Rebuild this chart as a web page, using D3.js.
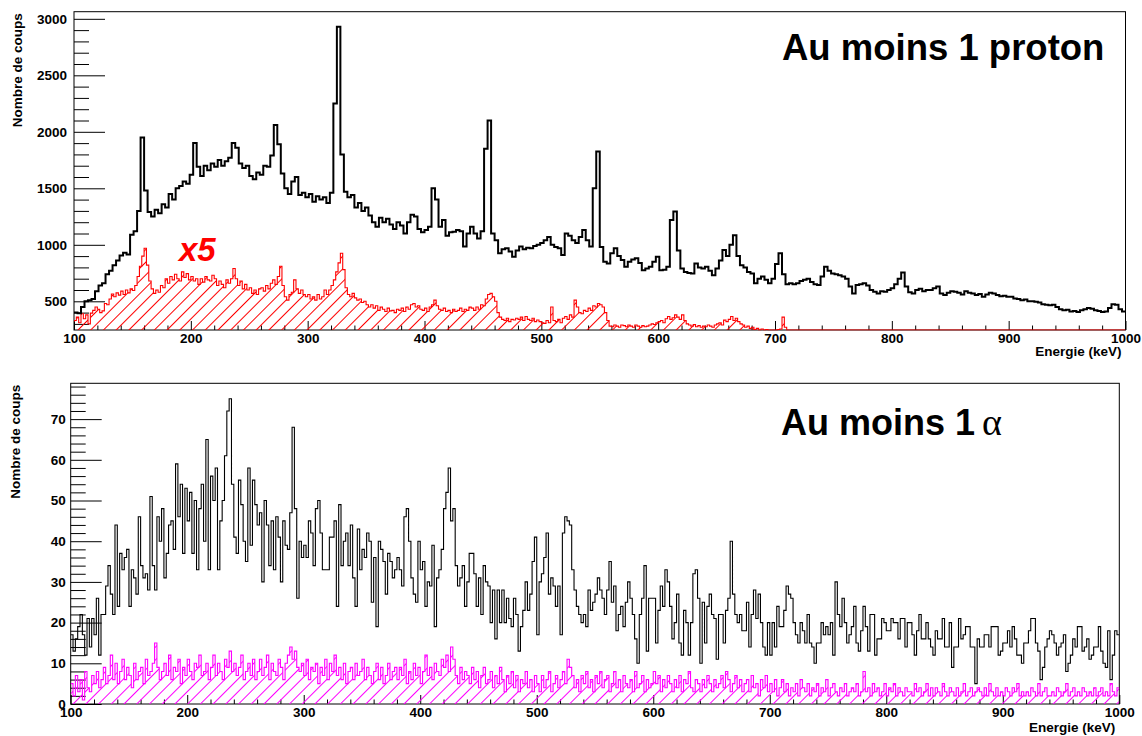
<!DOCTYPE html>
<html>
<head>
<meta charset="utf-8">
<script src="https://cdn.jsdelivr.net/npm/d3@7"></script>
<style>
  html, body { margin: 0; padding: 0; background: #ffffff; }
  svg text { font-family: "Liberation Sans", Arial, Helvetica, sans-serif; }
</style>
</head>
<body>
<svg id="chart" width="1142" height="736"></svg>
<script>
// ---------------------------------------------------------------
// Spectra (counts per energy bin). Each series starts at 100 keV.
// ---------------------------------------------------------------
const protonBinStart = 100, protonBinWidth = 3;   // keV
const protonCounts = [
  400,395,450,500,510,520,590,640,660,740,
  770,820,860,905,930,915,1090,1120,1300,1950,
  1480,1290,1250,1310,1280,1360,1330,1450,1400,1500,
  1520,1560,1540,1620,1900,1690,1610,1700,1660,1720,
  1690,1750,1700,1740,1770,1900,1860,1720,1680,1700,
  1610,1580,1640,1620,1700,1690,1790,2060,1890,1630,
  1500,1450,1560,1600,1440,1460,1420,1450,1380,1430,
  1400,1420,1370,1460,2250,2930,1800,1470,1420,1440,
  1330,1370,1300,1330,1260,1200,1160,1240,1200,1230,
  1180,1140,1200,1170,1100,1200,1265,1250,1140,1110,
  1130,1160,1500,1400,1160,1220,1080,1110,1115,1130,
  1120,985,1100,1160,1100,1055,1120,1850,2100,1100,
  1040,925,960,970,940,895,950,985,960,975,
  970,990,1000,1015,1040,1070,1000,980,970,910,
  1100,1080,1040,1015,1070,1130,1040,985,1500,1825,
  980,850,835,925,970,900,865,805,850,870,
  880,840,775,790,805,850,895,775,780,805,
  1220,1295,950,790,760,750,745,835,800,790,
  805,770,730,790,860,955,900,1000,1085,900,
  820,800,760,745,660,700,720,690,660,700,
  830,925,740,650,660,650,660,680,690,700,
  670,650,645,720,805,770,745,740,730,720,
  700,630,570,645,650,660,640,600,585,570,
  590,585,600,615,650,700,755,630,580,570,
  600,610,590,600,600,615,630,570,555,575,
  590,585,575,560,590,575,570,555,565,540,
  560,575,570,555,545,550,540,540,525,520,
  510,515,500,500,495,490,475,470,465,470,
  450,430,420,425,410,415,405,420,430,440,
  435,420,415,405,410,440,475,470,430,410
];

// second selection, scaled by 5
const protonSubBinStart = 100, protonSubBinWidth = 2; // keV
const protonSubCountsX5 = [
  330,360,310,390,345,380,300,395,420,450,
  430,400,415,480,470,520,565,540,575,555,
  590,560,600,575,610,595,640,720,810,900,
  970,820,680,610,570,600,580,640,620,700,
  660,720,690,740,700,680,760,710,745,690,
  720,680,700,650,700,670,720,690,680,730,
  700,640,680,650,620,690,660,700,790,700,
  640,680,610,650,600,620,570,600,560,610,
  620,590,640,610,660,690,650,720,810,640,
  540,510,560,580,690,610,570,600,560,540,
  560,520,540,510,560,520,540,600,560,600,
  640,690,760,840,925,780,620,560,540,570,
  530,510,520,490,500,470,450,470,440,460,
  420,450,430,410,440,415,420,400,430,420,
  440,410,450,430,470,480,450,460,430,420,
  440,410,450,470,510,460,430,420,440,410,
  420,400,430,410,420,440,410,430,420,450,
  440,420,450,430,470,460,520,560,570,540,
  500,400,360,340,330,350,320,340,335,350,
  340,360,330,365,340,330,350,320,335,320,
  310,305,330,310,450,330,320,340,310,350,
  365,340,380,360,510,450,400,390,420,410,
  440,420,460,450,480,470,450,400,330,280,
  275,290,280,270,290,285,275,290,280,270,
  290,280,270,285,275,280,290,300,295,310,
  320,330,310,345,365,340,355,380,360,340,
  380,330,300,290,280,295,275,285,270,280,
  275,290,280,270,290,300,310,290,335,320,
  340,365,330,350,320,300,290,270,280,260,
  270,250,260,240,255,235,250,240,230,245,
  240,250,255,360,270,235,225,230,220,235,
  220,225,215,230,210,220,215,205,220,210,
  215,205,210,200,215,205,210,200,205,210,
  225,210,200,205,215,205,240,200,195,205,
  200,195,205,190,200,195,190,200,185,195,
  190,185,195,180,190,185,180,190,185,180,
  185,175,180,185,175,170,180,175,170,175,
  170,175,165,170,175,165,170,160,165,170,
  165,160,170,160,165,155,160,165,155,160,
  155,160,150,155,150,155,145,150,155,145,
  150,145,140,150,145,140,145,135,140,145,
  140,135,140,130,135,140,130,135,130,125,
  135,130,125,130,125,120,130,125,120,125,
  120,125,115,120,125,115,120,110,115,120,
  115,110,120,115,110,115,105,110,115,110
];

const alphaBinStart = 100, alphaBinWidth = 2;     // keV
const alphaCounts = [
  17,13,16,19,22,17,12,21,14,21,
  17,26,12,22,22,29,34,27,22,44,
  24,37,33,36,38,24,33,31,27,46,
  34,31,32,28,51,34,28,46,40,48,
  31,37,44,45,38,59,46,54,37,53,
  45,52,37,50,33,48,54,40,65,33,
  56,50,58,33,45,50,61,72,75,54,
  41,37,55,49,40,35,58,39,55,49,
  44,47,30,50,44,34,45,33,46,41,
  30,45,39,38,47,68,48,26,40,36,
  39,36,45,42,34,48,50,42,33,33,
  33,41,41,45,24,49,34,40,42,34,
  44,31,24,43,33,38,36,42,40,25,
  36,19,40,38,35,27,37,35,31,33,
  36,33,29,46,48,40,31,27,25,40,
  33,35,24,30,29,39,19,31,33,38,
  48,52,58,45,48,34,29,31,34,24,
  30,37,37,32,24,31,22,34,30,29,
  20,28,16,28,20,28,20,26,21,19,
  26,22,13,19,23,30,23,27,35,41,
  17,30,32,36,42,27,31,29,24,29,
  17,42,46,45,44,33,28,24,22,20,
  22,19,28,23,25,27,31,28,26,22,
  28,35,25,29,18,22,24,19,25,30,
  26,22,16,10,22,26,34,13,26,26,
  26,15,23,29,24,33,30,24,16,20,
  27,15,12,23,20,12,20,32,33,26,
  10,25,15,24,27,22,21,11,22,22,
  15,23,26,40,27,22,20,22,18,18,
  25,14,22,28,21,27,20,14,12,20,
  12,20,14,24,19,19,23,29,27,26,
  20,17,15,20,18,15,22,15,14,10,
  15,15,20,17,19,17,20,12,30,22,
  19,26,20,15,17,19,24,15,13,18,
  24,19,13,22,22,12,16,16,21,20,
  18,18,21,20,20,16,21,21,14,20,
  20,17,12,18,22,16,16,20,16,14,
  12,18,16,16,21,14,14,20,9,14,
  14,21,16,17,19,19,14,14,5,16,
  14,14,17,17,14,19,19,19,12,13,
  15,15,18,14,19,16,12,12,10,15,
  15,18,21,21,15,13,6,9,14,16,
  18,17,15,12,14,15,17,8,10,12,
  16,14,19,19,13,14,16,11,12,14,
  14,19,13,10,9,18,6,12,18,17
];

const alphaSubBinStart = 100, alphaSubBinWidth = 2; // keV
const alphaSubCounts = [
  5,2,7,3,6,1,8,4,3,7,
  5,8,4,6,9,5,7,12,6,10,
  5,8,11,6,9,7,4,10,6,8,
  9,5,11,7,8,10,15,9,6,8,
  10,7,12,6,9,8,11,5,9,7,
  11,8,6,10,9,12,7,8,10,6,
  9,12,7,10,8,6,11,9,13,8,
  10,7,9,12,6,8,10,7,11,6,
  8,11,7,9,12,6,10,8,7,11,
  9,6,10,12,14,11,13,9,8,10,
  7,11,6,9,8,10,5,9,7,11,
  6,10,8,12,7,9,6,10,5,8,
  9,6,10,7,8,11,6,9,7,5,
  8,10,6,9,5,7,10,6,8,9,
  6,9,7,11,5,8,6,10,7,9,
  5,8,12,7,9,6,10,8,7,11,
  9,12,8,14,11,7,5,9,6,8,
  7,5,9,6,8,4,7,9,5,6,
  8,4,7,5,9,6,3,7,5,8,
  4,7,3,6,5,8,4,6,3,7,
  5,3,7,4,6,8,3,5,7,4,
  6,8,5,11,9,7,4,6,3,7,
  5,8,4,6,3,7,5,8,4,6,
  7,3,5,8,4,6,3,7,5,4,
  6,3,8,4,5,7,3,6,4,5,
  8,5,7,3,6,4,7,5,3,6,
  4,7,3,6,5,8,4,3,6,5,
  3,6,4,7,5,3,6,4,5,7,
  4,8,6,3,5,7,4,6,3,5,
  6,3,7,4,5,2,6,4,7,3,
  5,3,6,2,4,6,3,5,2,4,
  3,5,2,6,4,3,5,2,4,3,
  5,2,4,3,6,2,4,5,3,2,
  4,3,5,2,3,4,3,5,2,3,
  8,3,4,2,5,3,4,2,3,5,
  2,4,3,5,2,4,3,2,4,3,
  3,2,5,3,4,2,3,5,2,4,
  2,4,3,2,5,3,2,4,3,2,
  4,2,3,5,2,3,4,2,3,4,
  3,2,4,2,5,3,2,4,2,3,
  2,4,3,2,4,3,5,2,3,2,
  3,2,4,3,2,5,2,3,4,2,
  2,3,2,4,3,2,3,5,2,3,
  4,2,3,2,4,3,2,3,2,4,
  2,3,4,2,3,2,5,3,2,4
];

// axis ticks
const energyTicks      = [100,200,300,400,500,600,700,800,900,1000];
const energyMinorTicks = d3.range(100, 1001, 20).filter(v => v % 100 !== 0);
const protonTicks      = [500,1000,1500,2000,2500,3000];
const protonMinorTicks = d3.range(300, 3001, 100).filter(v => v % 500 !== 0);
const alphaTicks       = [0,10,20,30,40,50,60,70];
const alphaMinorTicks  = d3.range(2, 79, 2).filter(v => v % 10 !== 0);

const energyLabel = "Energie (keV)";
const countLabel  = "Nombre de coups";

// ---------------------------------------------------------------
const svg  = d3.select("#chart");
const defs = svg.append("defs");

function addHatch(id, color) {
  defs.append("pattern")
    .attr("id", id)
    .attr("patternUnits", "userSpaceOnUse")
    .attr("width", 9).attr("height", 9)
    .attr("patternTransform", "rotate(45)")
    .append("line")
    .attr("x1", 0.5).attr("y1", -1).attr("x2", 0.5).attr("y2", 10)
    .attr("stroke", color).attr("stroke-width", 1);
}
addHatch("hatch-red", "#ff0000");
addHatch("hatch-magenta", "#ff00ff");

function binPoints(vals, start, width) {
  const pts = vals.map((v, i) => [start + i * width, v]);
  pts.push([start + vals.length * width, vals[vals.length - 1]]);
  return pts;
}

function drawPanel(cfg) {
  const g = svg.append("g");
  const x = d3.scaleLinear().domain([100, 1000]).range([cfg.left, cfg.right]);
  const y = d3.scaleLinear().domain(cfg.yDomain).range([cfg.bottom, cfg.top]).clamp(true);

  const clipId = cfg.id + "-clip";
  defs.append("clipPath").attr("id", clipId)
    .append("rect")
    .attr("x", cfg.left).attr("y", cfg.top - 1)
    .attr("width", cfg.right - cfg.left).attr("height", cfg.bottom - cfg.top + 1.5);

  // frame
  g.append("rect")
    .attr("x", cfg.left).attr("y", cfg.top)
    .attr("width", cfg.right - cfg.left).attr("height", cfg.bottom - cfg.top)
    .attr("fill", "#fff").attr("stroke", "#000").attr("stroke-width", 1);

  // y axis: major + minor ticks pointing into the frame
  const yMajor = g.append("g").attr("transform", `translate(${cfg.left},0)`)
    .call(d3.axisLeft(y).tickValues(cfg.yTicks).tickSize(-31).tickPadding(cfg.yPad).tickFormat(d3.format("d")));
  g.append("g").attr("transform", `translate(${cfg.left},0)`)
    .call(d3.axisLeft(y).tickValues(cfg.yMinor).tickSize(-15).tickFormat(""));

  // x axis
  const xMajor = g.append("g").attr("transform", `translate(0,${cfg.bottom})`)
    .call(d3.axisBottom(x).tickValues(energyTicks).tickSize(-9).tickPadding(3.5).tickFormat(d3.format("d")));
  g.append("g").attr("transform", `translate(0,${cfg.bottom})`)
    .call(d3.axisBottom(x).tickValues(energyMinorTicks).tickSize(-4.5).tickFormat(""));

  g.selectAll(".domain").remove();
  g.selectAll(".tick line").attr("stroke", "#000").attr("stroke-width", 1);
  [yMajor, xMajor].forEach(a => a.selectAll("text")
    .attr("font-family", "Liberation Sans, Arial, sans-serif")
    .attr("font-weight", "bold").attr("font-size", 13.5).attr("fill", "#000"));

  // axis titles
  g.append("text")
    .attr("transform", `translate(${cfg.yTitleX},${cfg.top + 1.5}) rotate(-90)`)
    .attr("text-anchor", "end")
    .attr("font-weight", "bold").attr("font-size", 13.5)
    .text(countLabel);
  g.append("text")
    .attr("x", cfg.right - 4).attr("y", cfg.xTitleY)
    .attr("text-anchor", "end")
    .attr("font-weight", "bold").attr("font-size", 13.5)
    .text(energyLabel);

  const plot = g.append("g").attr("clip-path", `url(#${clipId})`);

  // hatched sub-selection
  const subPts = binPoints(cfg.sub, cfg.subStart, cfg.subWidth);
  const area = d3.area().curve(d3.curveStepAfter)
    .x(d => x(d[0])).y0(cfg.bottom).y1(d => y(d[1]));
  const line = d3.line().curve(d3.curveStepAfter)
    .x(d => x(d[0])).y(d => y(d[1]));

  plot.append("path").attr("d", area(subPts))
    .attr("fill", `url(#${cfg.hatch})`).attr("stroke", "none");
  plot.append("path").attr("d", line(subPts))
    .attr("fill", "none").attr("stroke", cfg.subColor).attr("stroke-width", 1.1);

  // main spectrum
  const mainPts = binPoints(cfg.main, cfg.mainStart, cfg.mainWidth);
  plot.append("path").attr("d", line(mainPts))
    .attr("fill", "none").attr("stroke", "#000")
    .attr("stroke-width", cfg.mainStroke).attr("stroke-linejoin", "miter");

  return { g, x, y };
}

// upper panel: at least one proton
const protonPanel = drawPanel({
  id: "proton", left: 74, right: 1125.5, top: 11.7, bottom: 330,
  yDomain: [246, 3063], yTicks: protonTicks, yMinor: protonMinorTicks, yPad: 7,
  yTitleX: 22, xTitleY: 356,
  main: protonCounts, mainStart: protonBinStart, mainWidth: protonBinWidth, mainStroke: 2,
  sub: protonSubCountsX5, subStart: protonSubBinStart, subWidth: protonSubBinWidth,
  subColor: "#ff0000", hatch: "hatch-red"
});
protonPanel.g.append("text")
  .attr("x", 782).attr("y", 60)
  .attr("font-weight", "bold").attr("font-size", 36.5)
  .text("Au moins 1 proton");
protonPanel.g.append("text")
  .attr("x", 179).attr("y", 261)
  .attr("font-family", "Liberation Serif, Times New Roman, serif")
  .attr("font-weight", "bold").attr("font-style", "italic")
  .attr("font-size", 33).attr("fill", "#ff0000")
  .text("x5");

// lower panel: at least one alpha
const alphaPanel = drawPanel({
  id: "alpha", left: 70.7, right: 1119.3, top: 383.3, bottom: 704,
  yDomain: [0, 78.8], yTicks: alphaTicks, yMinor: alphaMinorTicks, yPad: 5,
  yTitleX: 19.5, xTitleY: 732,
  main: alphaCounts, mainStart: alphaBinStart, mainWidth: alphaBinWidth, mainStroke: 1.1,
  sub: alphaSubCounts, subStart: alphaSubBinStart, subWidth: alphaSubBinWidth,
  subColor: "#ff00ff", hatch: "hatch-magenta"
});
const alphaTitle = alphaPanel.g.append("text")
  .attr("x", 781).attr("y", 435)
  .attr("font-weight", "bold").attr("font-size", 36);
alphaTitle.append("tspan").text("Au moins 1");
alphaTitle.append("tspan")
  .attr("dx", 7)
  .attr("font-family", "Liberation Serif, Times New Roman, serif")
  .attr("font-weight", "normal").attr("font-size", 38)
  .text("α");
</script>
</body>
</html>
